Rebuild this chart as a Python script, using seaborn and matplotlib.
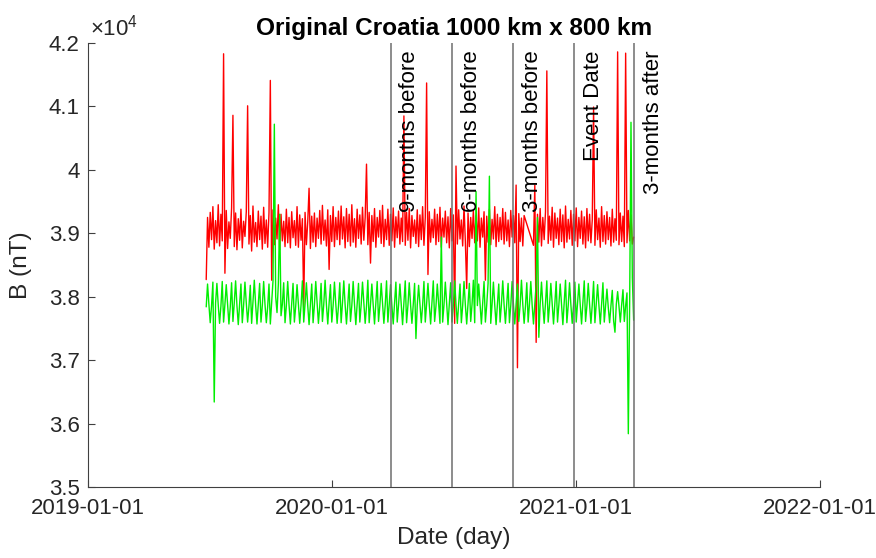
import numpy as np
import pandas as pd
import matplotlib
matplotlib.use("Agg")
import matplotlib.pyplot as plt
import matplotlib.dates as mdates
from matplotlib.ticker import FixedLocator, FuncFormatter
import seaborn as sns

# Field samples every 2 days, 2019-06-27 .. 2021-03-28 (nT)
start_date = "2019-06-27"
step_days = 2

red_values = [
    38270, 39250, 38780, 39330, 38900, 39420, 38750, 39200, 38850, 39450, 38800, 39300, 38880, 41830, 38370, 39360, 38760, 39180, 38920, 39400,
    40860, 38790, 39320, 38740, 39230, 38890, 39380, 38770, 39190, 38950, 39340, 41010, 38830, 39280, 38720, 39430, 38860, 39170, 38790, 39350,
    38900, 39270, 38750, 39410, 38840, 39210, 38780, 39330, 41410, 38260, 39370, 38820, 39240, 38910, 39450, 38740, 39300, 38880, 39190, 38790,
    39380, 38850, 39250, 38770, 39340, 38930, 39200, 38810, 39420, 38780, 39290, 38890, 39230, 37830, 39330, 38820, 39180, 39710, 38760, 39270,
    38860, 39320, 38790, 39240, 38920, 39360, 38830, 39440, 38890, 39210, 38800, 39370, 38430, 39280, 38870, 39420, 38790, 39250, 38900, 39350,
    38820, 39430, 38910, 39260, 38770, 39390, 38870, 39300, 38800, 39450, 38860, 39230, 38780, 39380, 38920, 39290, 38830, 39410, 38890, 39250,
    40090, 38820, 39330, 38530, 39280, 38870, 39390, 38780, 39250, 38940, 39360, 38840, 39440, 38790, 39220, 38900, 39380, 38810, 39300, 38880,
    39400, 38780, 39260, 38930, 39350, 38830, 39240, 38870, 40850, 38810, 39330, 38890, 39390, 38770, 39280, 38950, 39210, 38840, 39370, 38790,
    39290, 38900, 39420, 38810, 39250, 41370, 38350, 39340, 38860, 39220, 38930, 39380, 38820, 39300, 38870, 39410, 38780, 39240, 38940, 39350,
    38850, 39260, 38770, 39390, 38880, 39290, 37580, 40060, 38830, 39370, 38910, 39210, 38800, 39430, 38870, 38130, 39320, 38790, 39250, 38920,
    39360, 38850, 39280, 38880, 39400, 38780, 39240, 38940, 39340, 38260, 39270, 38860, 39380, 38820, 39220, 38910, 39420, 38790, 39300, 38870,
    39250, 38900, 39390, 38830, 39330, 38880, 39210, 38790, 39360, 38940, 39280, 38850, 39760, 36880, 39310, 38870, 39240, 38800, 39280, np.nan,
    np.nan, np.nan, np.nan, np.nan, np.nan, 38810, 39760, 37280, 39300, 38860, 39390, 38800, 39250, 38900, 39340, 41560, 38840, 39270, 38890, 39410,
    38780, 39320, 38920, 39240, 38820, 39380, 38870, 39290, 38770, 39430, 38860, 39220, 38910, 39360, 38810, 39300, 38880, 39400, 38790, 39250,
    38920, 39350, 38830, 39260, 38770, 39390, 38880, 39300, 38850, 39210, 40990, 38810, 39370, 38900, 39240, 38780, 39420, 38870, 39280, 38830,
    39340, 38900, 39250, 38800, 39380, 38860, 39230, 38890, 41860, 38820, 39320, 38870, 39270, 38790, 41840, 38850, 39360, 38880, 39290, 38830,
    38940,
]

green_values = [
    37840, 38200, 37880, 37590, 37860, 38230, 36340, 37900, 38210, 37870, 37580, 37850, 38240, 37600, 37880, 38190, 37890, 37570, 37840, 38220,
    37610, 37900, 38250, 37860, 37560, 37880, 38200, 37590, 37870, 38230, 37900, 37600, 37850, 38180, 37580, 37910, 38260, 37870, 37570, 37890,
    38210, 37600, 37860, 38240, 37880, 37590, 37840, 38200, 37570, 37900, 38250, 40720, 38000, 37750, 38200, 39300, 37700, 37880, 38220, 37590,
    37860, 38240, 37870, 37570, 37900, 38210, 37600, 37850, 38190, 37880, 37580, 37870, 38250, 37600, 37890, 38220, 37860, 37560, 37880, 38200,
    37590, 37870, 38240, 37900, 37580, 37850, 38210, 37610, 37880, 38260, 37870, 37570, 37900, 38190, 37600, 37860, 38230, 37890, 37580, 37850,
    38220, 37590, 37900, 38250, 37870, 37570, 37880, 38200, 37610, 37860, 38240, 37880, 37560, 37890, 38210, 37600, 37870, 38230, 37900, 37580,
    37850, 38260, 37590, 37880, 38200, 37870, 37570, 37900, 38240, 37610, 37860, 38210, 37890, 37580, 37870, 38250, 37600, 37880, 38190, 37860,
    37570, 37890, 38230, 37600, 37870, 38200, 37880, 37560, 37900, 38250, 37590, 37860, 38220, 37870, 37580, 37880, 38210, 37340, 37870, 38180,
    37880, 37590, 37860, 38240, 37600, 37890, 38210, 37870, 37570, 37900, 38250, 37610, 37850, 38200, 37880, 37580, 38940, 37600, 37870, 38230,
    37890, 37560, 37880, 38220, 37600, 37870, 38250, 37880, 37580, 37900, 38200, 37590, 37860, 38240, 37870, 37570, 37890, 38210, 37610, 37880,
    38260, 37590, 39660, 37860, 38200, 37880, 37570, 37900, 38240, 37600, 37870, 38210, 39900, 37580, 37880, 38230, 37870, 37560, 37890, 38200,
    37600, 37880, 38250, 37870, 37580, 37900, 38210, 37590, 37860, 38240, 37880, 37570, 37890, 38200, 37610, 37870, 38260, 37880, 37580, 37850,
    38220, 37600, 37890, 38240, 37870, 37570, 37880, 38200, 39250, 37360, 37880, 38230, 37870, 37580, 37900, 38250, 37600, 37860, 38210, 37880,
    37570, 37890, 38240, 37600, 37870, 38200, 37880, 37560, 37900, 38260, 37590, 37860, 38220, 37870, 37580, 37880, 38230, 37600, 37890, 38200,
    37870, 37570, 37900, 38250, 37610, 37860, 38210, 37880, 37580, 37870, 38240, 37590, 37900, 38190, 37860, 37570, 37880, 38220, 37600, 37870,
    38120, 37830, 37590, 37860, 38100, 37620, 37440, 37880, 38080, 37850, 37600, 37870, 38110, 37610, 37860, 38060, 35840, 37900, 40750, 38300,
    37630,
]

# Reference dates around the event
marker_dates = ["2020-03-29", "2020-06-29", "2020-09-29", "2020-12-29", "2021-03-29"]
marker_labels = ["9-months before", "6-months before", "3-months before", "Event Date", "3-months after"]

x_tick_dates = ["2019-01-01", "2020-01-01", "2021-01-01", "2022-01-01"]
y_tick_values = [35000, 36000, 37000, 38000, 39000, 40000, 41000, 42000]

dates = pd.date_range(start_date, periods=len(red_values), freq=f"{step_days}D")
df = pd.concat([
    pd.DataFrame({"date": dates, "B": red_values, "series": "red"}),
    pd.DataFrame({"date": dates, "B": green_values, "series": "green"}),
]).dropna()

sns.set_theme(style="white")
plt.rcParams["font.family"] = ["Liberation Sans", "DejaVu Sans"]
plt.rcParams["mathtext.fontset"] = "custom"
plt.rcParams["mathtext.rm"] = "Liberation Sans"

fig = plt.figure(figsize=(8.76, 5.58), dpi=100)
ax = fig.add_axes([88 / 876, 1 - 487 / 558, (820 - 88) / 876, (487 - 43) / 558])

sns.lineplot(data=df, x="date", y="B", hue="series",
             palette={"red": "#ff0000", "green": "#00ee00"},
             estimator=None, linewidth=1.0, legend=False, ax=ax, sort=False)

for d, lab in zip(marker_dates, marker_labels):
    xd = pd.Timestamp(d)
    ax.axvline(xd, color="#6e6e6e", linewidth=1.1, zorder=3)
    ax.text(xd + pd.Timedelta(days=13), 41880, lab, rotation=90,
            rotation_mode="anchor", ha="right", va="top",
            fontsize=16, color="black", zorder=4)

ax.set_xlim(pd.Timestamp(x_tick_dates[0]), pd.Timestamp(x_tick_dates[-1]))
ax.set_ylim(y_tick_values[0], y_tick_values[-1])
ax.xaxis.set_major_locator(FixedLocator(mdates.date2num(pd.to_datetime(x_tick_dates))))
ax.xaxis.set_major_formatter(mdates.DateFormatter("%Y-%m-%d"))
ax.yaxis.set_major_locator(FixedLocator(y_tick_values))
ax.yaxis.set_major_formatter(FuncFormatter(lambda v, p: f"{v / 1e4:g}"))

for side in ("top", "right"):
    ax.spines[side].set_visible(False)
for side in ("left", "bottom"):
    ax.spines[side].set_color("#404040")
    ax.spines[side].set_linewidth(0.8)

ax.tick_params(axis="both", direction="in", length=5, width=0.8,
               colors="#404040", labelcolor="#262626", labelsize=16,
               left=True, bottom=True)
ax.tick_params(axis="x", pad=8)
ax.tick_params(axis="y", pad=6)

ax.set_xlabel("Date (day)", fontsize=17.6, color="#262626", labelpad=6)
ax.set_ylabel("B (nT)", fontsize=17.6, color="#262626", labelpad=12)
ax.set_title("Original Croatia 1000 km x 800 km", fontsize=17.6,
             fontweight="bold", color="black", pad=6)

ax.text(0.003, 1.005, "×$\\mathregular{10^{4}}$", transform=ax.transAxes,
        ha="left", va="bottom", fontsize=16, color="#262626")

fig.savefig("out.png", dpi=100)
